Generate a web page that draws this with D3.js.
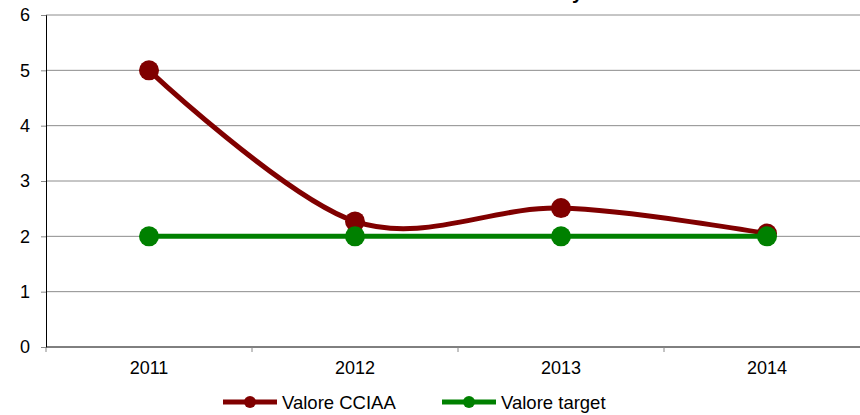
<!DOCTYPE html>
<html lang="en">
<head>
  <meta charset="UTF-8">
  <title>Valore CCIAA vs target</title>
  <script src="https://cdn.jsdelivr.net/npm/d3@7"></script>
  <style>
    body { margin: 0; background: #fff; }
    svg { display: block; font-family: "Liberation Sans", Arial, sans-serif; }
  </style>
</head>
<body>
<script>
  const years = ["2011", "2012", "2013", "2014"];
  const valoreCCIAA = [5, 2.27, 2.51, 2.05];
  const valoreTarget = [2, 2, 2, 2];
  const yTicks = [0, 1, 2, 3, 4, 5, 6];

  const width = 860, height = 415;
  const margin = { left: 46, top: 15, bottom: 68 };
  const plotRight = 870;

  const svg = d3.select("body").append("svg")
    .attr("width", width)
    .attr("height", height);

  // title is mostly cut off above the top edge in the original
  svg.append("text")
    .attr("x", 583).attr("y", -1)
    .attr("text-anchor", "end")
    .attr("font-weight", "bold")
    .attr("font-size", 20)
    .text("Andamento indicatore Efficiency");

  const x = d3.scaleBand().domain(years).range([margin.left, plotRight]);
  const y = d3.scaleLinear().domain([0, 6]).range([height - margin.bottom, margin.top]);

  // grid lines
  svg.selectAll(".grid")
    .data(yTicks.slice(1))
    .enter().append("line")
    .attr("x1", margin.left).attr("x2", width)
    .attr("y1", d => y(d)).attr("y2", d => y(d))
    .attr("stroke", "#8c8c8c").attr("stroke-width", 1);

  // y axis
  const yAxis = svg.append("g")
    .attr("transform", `translate(${margin.left},0)`)
    .call(d3.axisLeft(y).tickValues(yTicks).tickFormat(d3.format("d")).tickSize(5).tickPadding(11));
  yAxis.select(".domain").attr("stroke", "#000");
  yAxis.selectAll(".tick line").attr("stroke", "#888");
  yAxis.selectAll("text").attr("font-size", 18).attr("fill", "#000");

  // x axis
  const xAxis = svg.append("g")
    .attr("transform", `translate(0,${y(0)})`)
    .call(d3.axisBottom(x).tickSize(0).tickPadding(14));
  xAxis.select(".domain").remove();
  xAxis.selectAll("text").attr("font-size", 18).attr("fill", "#000");
  svg.append("line")
    .attr("x1", margin.left).attr("x2", width)
    .attr("y1", y(0)).attr("y2", y(0))
    .attr("stroke", "#000");
  svg.selectAll(".xtick")
    .data(years)
    .enter().append("line")
    .attr("x1", d => x(d)).attr("x2", d => x(d))
    .attr("y1", y(0)).attr("y2", y(0) + 5)
    .attr("stroke", "#888");

  const cx = d => x(d) + x.bandwidth() / 2;

  const series = [
    { name: "Valore CCIAA", values: valoreCCIAA, color: "#800000", curve: d3.curveCardinal.tension(0) },
    { name: "Valore target", values: valoreTarget, color: "#008000", curve: d3.curveLinear }
  ];

  series.forEach(s => {
    const pts = years.map((yr, i) => [cx(yr), y(s.values[i])]);
    svg.append("path")
      .attr("d", d3.line().curve(s.curve)(pts))
      .attr("fill", "none")
      .attr("stroke", s.color)
      .attr("stroke-width", 5);
    svg.selectAll(null)
      .data(pts)
      .enter().append("circle")
      .attr("cx", d => d[0]).attr("cy", d => d[1])
      .attr("r", 10)
      .attr("fill", s.color);
  });

  // legend
  const legendX = [223, 442];
  series.forEach((s, i) => {
    const g = svg.append("g").attr("transform", `translate(${legendX[i]},402)`);
    g.append("line").attr("x1", 0).attr("x2", 54)
      .attr("stroke", s.color).attr("stroke-width", 5);
    g.append("circle").attr("cx", 27).attr("r", 6).attr("fill", s.color);
    g.append("text").attr("x", 59).attr("y", 6.5)
      .attr("font-size", 18.5).attr("fill", "#000")
      .text(s.name);
  });
</script>
</body>
</html>
